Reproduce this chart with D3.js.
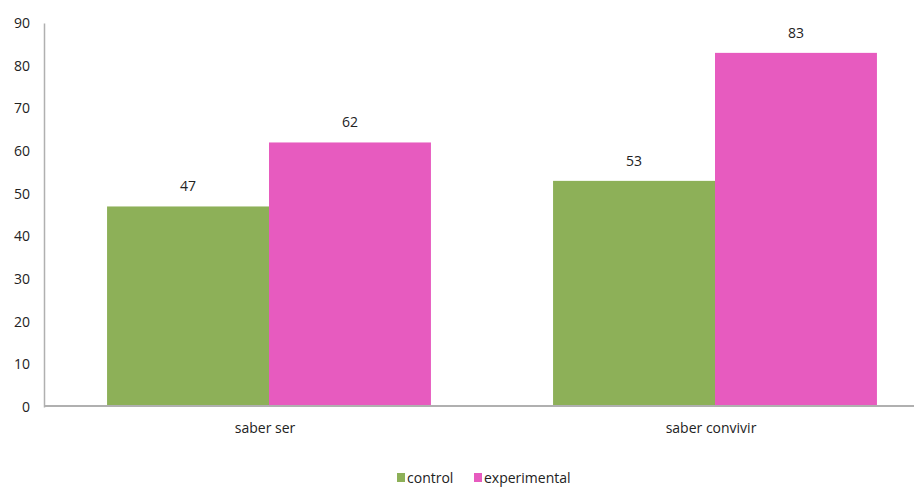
<!DOCTYPE html>
<html><head><meta charset="utf-8">
<script src="https://cdn.jsdelivr.net/npm/d3@7"></script>
<style>
body{margin:0;background:#fff;}
svg text{font-family:"Open Sans",sans-serif;fill:#222;}
</style></head>
<body><svg id="c" width="914" height="487"></svg>
<script>
const categories = ["saber ser", "saber convivir"];
const seriesNames = ["control", "experimental"];
const control = [47, 53];
const experimental = [62, 83];
const yTicks = [0,10,20,30,40,50,60,70,80,90];
const colors = {control:"#8db058", experimental:"#e75bbf"};

const data = categories.map((c,i)=>({cat:c, values:[{s:"control",v:control[i]},{s:"experimental",v:experimental[i]}]}));

const svg = d3.select("#c");
const y = d3.scaleLinear().domain([0,90]).range([407,23]);
const x0 = d3.scaleBand().domain(categories).range([46,938]);
const x1 = d3.scaleBand().domain(seriesNames).range([0,x0.bandwidth()]).paddingOuter(0.377);

// y axis
const yAxis = svg.append("g").attr("transform","translate(44,0)")
  .call(d3.axisLeft(y).tickValues(yTicks).tickSize(0).tickPadding(14));
yAxis.select(".domain").attr("stroke","#b0b0b0").attr("stroke-width",1.5);
yAxis.selectAll("text").attr("font-size",14).style("fill","#222");

// bars
const g = svg.append("g");
const grp = g.selectAll("g").data(data).join("g").attr("transform",d=>`translate(${x0(d.cat)},0)`);
grp.selectAll("rect").data(d=>d.values).join("rect")
  .attr("x",d=>x1(d.s)).attr("width",x1.bandwidth())
  .attr("y",d=>y(d.v)).attr("height",d=>y(0)-y(d.v))
  .attr("fill",d=>colors[d.s]);
grp.selectAll("text.v").data(d=>d.values).join("text").attr("class","v")
  .attr("x",d=>x1(d.s)+x1.bandwidth()/2).attr("y",d=>y(d.v)-15)
  .attr("text-anchor","middle").attr("font-size",14).text(d=>d.v);

// x axis
const xAxis = svg.append("g").attr("transform","translate(0,406)")
  .call(d3.axisBottom(x0).tickSize(0).tickPadding(17));
xAxis.select(".domain").attr("d","M44,0H914").attr("stroke","#b0b0b0").attr("stroke-width",2);
xAxis.selectAll("text").attr("font-size",14).style("fill","#222").attr("dx",-4);

// legend
const legend = svg.append("g").attr("transform","translate(397,473)");
const items = [{s:"control",x:0},{s:"experimental",x:77}];
items.forEach(it=>{
  legend.append("rect").attr("x",it.x).attr("y",0).attr("width",8).attr("height",9).attr("fill",colors[it.s]);
  legend.append("text").attr("x",it.x+10).attr("y",10).attr("font-size",14).text(it.s);
});
</script></body></html>
